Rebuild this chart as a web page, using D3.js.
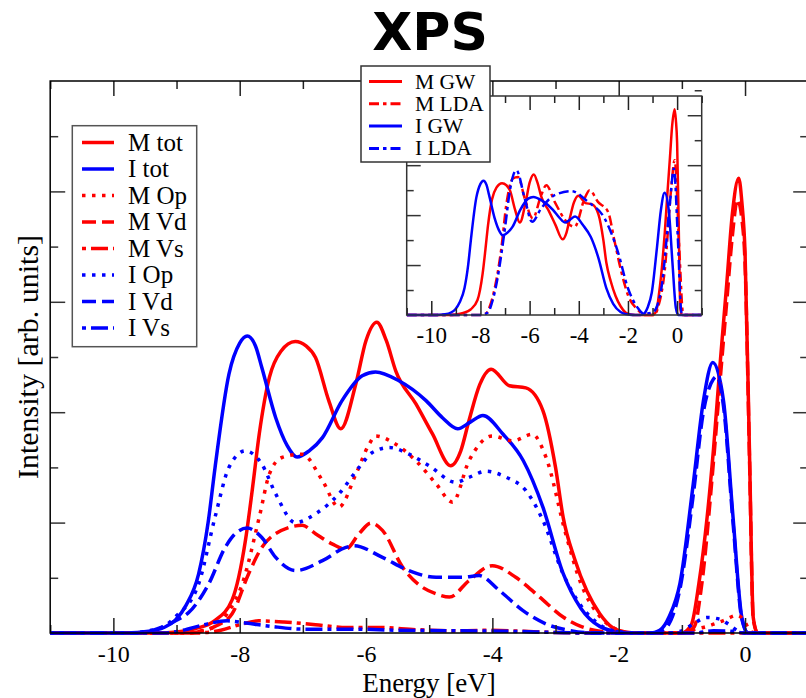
<!DOCTYPE html>
<html><head><meta charset="utf-8">
<script src="https://cdn.jsdelivr.net/npm/d3@7"></script>
<style>body{margin:0;background:#fff}svg{display:block}</style>
</head><body>
<svg id="c" width="806" height="698"></svg>
<script>
// ---------------- data (Energy [eV], Intensity [arb. units]) ----------------
const mTot = [[-11,0],[-9.3,0],[-9.0,0.02],[-8.7,0.08],[-8.4,0.22],[-8.12,0.6],[-7.91,1.67],[-7.8,2.6],[-7.69,3.61],[-7.53,4.63],[-7.35,5.1],[-7.12,5.28],[-6.95,5.2],[-6.8,4.99],[-6.59,4.21],[-6.4,3.7],[-6.16,4.52],[-6.0,5.3],[-5.83,5.63],[-5.68,5.3],[-5.53,4.75],[-5.21,4.15],[-4.95,3.61],[-4.66,3.03],[-4.5,3.3],[-4.37,3.85],[-4.2,4.5],[-4.02,4.78],[-3.73,4.48],[-3.47,4.44],[-3.2,4.03],[-3.0,3.0],[-2.88,2.1],[-2.7,1.35],[-2.5,0.75],[-2.3,0.35],[-2.1,0.1],[-1.9,0.02],[-1.7,0],[-1.0,0],[-0.85,0.15],[-0.73,0.9],[-0.6,2.1],[-0.5,3.32],[-0.4,4.8],[-0.29,6.32],[-0.2,7.6],[-0.1,8.24],[-0.05,7.8],[0,6.9],[0.07,3.3],[0.13,0.28],[0.2,0],[1,0]];
const iTot = [[-11,0],[-9.8,0],[-9.44,0.03],[-9.2,0.1],[-9.02,0.23],[-8.85,0.5],[-8.65,1.07],[-8.5,2.0],[-8.39,3.0],[-8.17,4.69],[-8.0,5.25],[-7.88,5.38],[-7.75,5.2],[-7.65,4.81],[-7.43,3.9],[-7.25,3.4],[-7.09,3.19],[-6.9,3.3],[-6.69,3.54],[-6.38,4.21],[-6.06,4.66],[-5.85,4.73],[-5.48,4.57],[-5.05,4.21],[-4.79,3.9],[-4.55,3.7],[-4.35,3.82],[-4.15,3.94],[-3.83,3.6],[-3.51,3.12],[-3.2,2.28],[-2.88,1.08],[-2.6,0.45],[-2.3,0.12],[-2.0,0.02],[-1.7,0],[-1.5,0],[-1.35,0.05],[-1.2,0.3],[-1.03,0.9],[-0.82,2.7],[-0.66,4.2],[-0.51,4.9],[-0.34,4.2],[-0.19,2.1],[-0.05,0.28],[0.05,0],[1,0]];
const mOp = [[-11,0],[-8.8,0],[-8.6,0.04],[-8.39,0.12],[-8.2,0.35],[-7.96,0.89],[-7.69,2.1],[-7.53,2.88],[-7.33,3.18],[-7.01,3.24],[-6.69,2.76],[-6.43,2.28],[-6.16,2.88],[-5.95,3.42],[-5.85,3.57],[-5.53,3.42],[-5.21,3.12],[-4.89,2.7],[-4.63,2.37],[-4.37,3.12],[-4.0,3.57],[-3.68,3.48],[-3.37,3.6],[-3.15,3.18],[-2.84,1.8],[-2.6,0.9],[-2.3,0.3],[-2.0,0.05],[-1.8,0],[-1.0,0],[-0.85,0.05],[-0.6,0.12],[-0.35,0.22],[-0.12,0.32],[-0.03,0.25],[0.1,0.02],[0.2,0],[1,0]];
const mVd = [[-11,0],[-8.8,0],[-8.55,0.05],[-8.39,0.12],[-8.12,0.35],[-7.86,1.07],[-7.65,1.55],[-7.43,1.8],[-7.01,1.95],[-6.8,1.8],[-6.53,1.61],[-6.32,1.52],[-6.11,1.8],[-5.92,1.99],[-5.74,1.86],[-5.42,1.19],[-5.11,0.83],[-4.89,0.71],[-4.68,0.65],[-4.37,0.95],[-4.0,1.22],[-3.63,1.01],[-3.25,0.65],[-2.88,0.29],[-2.6,0.12],[-2.3,0.03],[-2.0,0],[-0.95,0],[-0.8,0.12],[-0.7,0.75],[-0.5,3.1],[-0.4,4.5],[-0.29,6.0],[-0.2,7.2],[-0.12,7.85],[-0.05,7.5],[0,6.7],[0.07,3.2],[0.13,0.25],[0.2,0],[1,0]];
const mVs = [[-11,0],[-8.7,0],[-8.3,0.05],[-8.0,0.15],[-7.7,0.22],[-7.3,0.2],[-6.8,0.15],[-6.3,0.1],[-5.8,0.1],[-5.2,0.06],[-4.5,0.04],[-4.0,0.05],[-3.5,0.03],[-3.0,0.01],[-2.5,0],[1,0]];
const iOp = [[-11,0],[-9.8,0],[-9.44,0.04],[-9.2,0.12],[-9.02,0.29],[-8.65,0.89],[-8.39,2.1],[-8.17,3.0],[-7.91,3.3],[-7.65,3.06],[-7.43,2.52],[-7.12,2.0],[-6.8,2.16],[-6.43,2.52],[-6.11,3.0],[-5.9,3.27],[-5.63,3.36],[-5.32,3.24],[-5.0,3.03],[-4.58,2.73],[-4.37,2.82],[-4.1,2.93],[-3.78,2.82],[-3.47,2.58],[-3.2,2.04],[-2.88,1.07],[-2.6,0.5],[-2.3,0.15],[-2.0,0.02],[-1.7,0],[-1.2,0],[-1.0,0.04],[-0.8,0.18],[-0.6,0.28],[-0.4,0.25],[-0.25,0.15],[-0.1,0.03],[0,0],[1,0]];
const iVd = [[-11,0],[-9.6,0],[-9.3,0.08],[-9.0,0.23],[-8.8,0.38],[-8.49,0.89],[-8.23,1.55],[-8.05,1.82],[-7.88,1.9],[-7.65,1.73],[-7.43,1.37],[-7.12,1.13],[-6.69,1.31],[-6.32,1.55],[-6.19,1.58],[-5.74,1.37],[-5.32,1.13],[-4.89,1.01],[-4.47,1.01],[-4.21,1.04],[-3.89,0.77],[-3.52,0.41],[-3.1,0.14],[-2.8,0.05],[-2.4,0],[-1.5,0],[-1.3,0.05],[-1.03,0.8],[-0.82,2.5],[-0.66,4.0],[-0.5,4.6],[-0.45,4.65],[-0.34,4.1],[-0.19,2.0],[-0.05,0.25],[0.05,0],[1,0]];
const iVs = [[-11,0],[-9.2,0],[-8.9,0.05],[-8.6,0.14],[-8.2,0.22],[-7.9,0.18],[-7.5,0.12],[-7.0,0.07],[-6.2,0.07],[-5.5,0.05],[-4.5,0.04],[-3.7,0.03],[-3.0,0.01],[-2.5,0],[-0.8,0],[-0.5,0.04],[-0.2,0.03],[0,0],[1,0]];
// inset: GW curves are the totals above, LDA curves below
const mLda = [[-11,0],[-8.0,0],[-7.76,0.07],[-7.6,0.4],[-7.42,1.07],[-7.15,2.67],[-6.95,4.4],[-6.68,5.47],[-6.47,5.53],[-6.2,4.67],[-5.87,3.87],[-5.53,4.8],[-5.32,5.2],[-4.98,4.53],[-4.44,3.67],[-4.17,3.53],[-3.76,4.67],[-3.56,5.0],[-3.22,4.53],[-2.81,4.13],[-2.54,2.93],[-2.27,1.73],[-2.0,0.8],[-1.59,0.2],[-1.3,0],[-0.9,0],[-0.78,0.3],[-0.51,1.73],[-0.24,5.07],[-0.1,6.2],[0.1,2.4],[0.23,0.13],[0.3,0],[1,0]];
const iLda = [[-11,0],[-8.0,0],[-7.7,0.1],[-7.5,0.6],[-7.3,1.5],[-7.0,3.5],[-6.8,5.0],[-6.54,5.8],[-6.2,4.67],[-5.9,3.73],[-5.53,4.27],[-4.98,4.8],[-4.3,4.96],[-3.63,4.53],[-2.95,3.87],[-2.41,2.53],[-2.0,1.07],[-1.59,0.27],[-1.35,0.05],[-1.0,0.1],[-0.8,0.4],[-0.64,1.07],[-0.3,4.4],[-0.13,5.87],[0.03,3.07],[0.17,0.13],[0.25,0],[1,0]];

const xTickLabels = ["-10","-8","-6","-4","-2","0"];
const xMajor = [-10,-8,-6,-4,-2,0];
const xMinor = [-11,-9,-7,-5,-3,-1,1];
const yMajor = [2,4,6,8];
const yMinor = [1,3,5,7,9];
const mainLegend = ["M tot","I tot","M Op","M Vd","M Vs","I Op","I Vd","I Vs"];
const insetLegend = ["M GW","M LDA","I GW","I LDA"];

// ---------------- styles ----------------
const RED = "#ff0000", BLUE = "#0000ff";
const DOT = "3.5,6.5", DASH = "14,6", DASHDOT = "4,5,17,5", LDADASH = "10,4,3.5,4";
const mainSeries = [
  {data:mTot, color:RED, dash:null},
  {data:iTot, color:BLUE, dash:null},
  {data:mOp, color:RED, dash:DOT},
  {data:mVd, color:RED, dash:DASH},
  {data:mVs, color:RED, dash:DASHDOT},
  {data:iOp, color:BLUE, dash:DOT},
  {data:iVd, color:BLUE, dash:DASH},
  {data:iVs, color:BLUE, dash:DASHDOT}
];
const insetSeries = [
  {data:mTot, color:RED, dash:null},
  {data:mLda, color:RED, dash:LDADASH},
  {data:iTot, color:BLUE, dash:null},
  {data:iLda, color:BLUE, dash:LDADASH}
];

const svg = d3.select("#c");
const SERIF = "'Liberation Serif','Times New Roman',serif";

// ---------------- main plot ----------------
const M = {l:50.2, r:808.2, t:81, b:633};
const x = d3.scaleLinear().domain([-11,1]).range([M.l, M.r]);
const y = d3.scaleLinear().domain([0,10]).range([M.b, M.t]);

svg.append("text").attr("x",430).attr("y",50).attr("text-anchor","middle")
  .style("font-family","'DejaVu Sans',sans-serif").style("font-weight","bold").style("font-size","52px")
  .text("XPS");

const defs = svg.append("defs");
defs.append("clipPath").attr("id","clipMain").append("rect")
  .attr("x",M.l).attr("y",M.t-2).attr("width",M.r-M.l).attr("height",M.b-M.t+4);

function styleAxis(g, color){
  g.select(".domain").remove();
  g.selectAll("line").attr("stroke",color).attr("stroke-width",1.5);
}
function ticks(svgSel, xs, ys, box, majLen, minLen, labels, labelFont, labelDy){
  const gb = svgSel.append("g").attr("transform",`translate(0,${box.b})`)
    .call(d3.axisBottom(xs).tickValues(xMajor).tickSizeInner(-majLen).tickSizeOuter(0).tickFormat((d,i)=>labels[i]));
  styleAxis(gb,"#222");
  gb.selectAll("text").attr("y",labelDy).attr("dy",0).attr("fill","#000")
    .style("font-family",SERIF).style("font-size",labelFont);
  const gbm = svgSel.append("g").attr("transform",`translate(0,${box.b})`)
    .call(d3.axisBottom(xs).tickValues(xMinor).tickSizeInner(-minLen).tickSizeOuter(0).tickFormat(""));
  styleAxis(gbm,"#222");
  [[xMajor,majLen],[xMinor,minLen]].forEach(([v,len])=>{
    const g = svgSel.append("g").attr("transform",`translate(0,${box.t})`)
      .call(d3.axisTop(xs).tickValues(v).tickSizeInner(-len).tickSizeOuter(0).tickFormat(""));
    styleAxis(g,"#222");
  });
  [[yMajor,majLen],[yMinor,minLen]].forEach(([v,len])=>{
    const gl = svgSel.append("g").attr("transform",`translate(${box.l},0)`)
      .call(d3.axisLeft(ys).tickValues(v).tickSizeInner(-len).tickSizeOuter(0).tickFormat(""));
    styleAxis(gl,"#333");
    const gr = svgSel.append("g").attr("transform",`translate(${box.r},0)`)
      .call(d3.axisRight(ys).tickValues(v).tickSizeInner(-len).tickSizeOuter(0).tickFormat(""));
    styleAxis(gr,"#333");
  });
}

const lineMain = d3.line().x(d=>x(d[0])).y(d=>y(d[1])).curve(d3.curveMonotoneX);
const gMain = svg.append("g").attr("clip-path","url(#clipMain)");
mainSeries.forEach(s=>{
  gMain.append("path").attr("d",lineMain(s.data)).attr("fill","none")
    .attr("stroke",s.color).attr("stroke-width",3.5)
    .attr("stroke-dasharray",s.dash).attr("stroke-linejoin","round");
});

ticks(svg, x, y, M, 15, 8, xTickLabels, "24px", 29);
svg.append("rect").attr("x",M.l).attr("y",M.t).attr("width",M.r-M.l).attr("height",M.b-M.t)
  .attr("fill","none").attr("stroke","#000").attr("stroke-width",1.5);

// axis titles
svg.append("text").attr("x",429).attr("y",692).attr("text-anchor","middle")
  .style("font-family",SERIF).style("font-size","27px").text("Energy [eV]");
svg.append("text").attr("transform","translate(38,357) rotate(-90)").attr("text-anchor","middle")
  .style("font-family",SERIF).style("font-size","30px").text("Intensity [arb. units]");

// main legend
const lg = svg.append("g");
lg.append("rect").attr("x",72.3).attr("y",125.7).attr("width",124.4).attr("height",221)
  .attr("fill","#fff").attr("stroke","#555").attr("stroke-width",1.5);
mainLegend.forEach((name,i)=>{
  const ry = 142.5 + i*26.5, s = mainSeries[i];
  lg.append("line").attr("x1",82).attr("x2",114).attr("y1",ry).attr("y2",ry)
    .attr("stroke",s.color).attr("stroke-width",3.5).attr("stroke-dasharray",s.dash);
  lg.append("text").attr("x",128).attr("y",ry+8)
    .style("font-family",SERIF).style("font-size","25px").text(name);
});

// ---------------- inset ----------------
const I = {l:406.7, r:701.7, t:96, b:315};
const xi = d3.scaleLinear().domain([-11,1]).range([I.l, I.r]);
const yi = d3.scaleLinear().domain([0,8.77]).range([I.b, I.t]);
svg.append("rect").attr("x",I.l).attr("y",I.t).attr("width",I.r-I.l).attr("height",I.b-I.t).attr("fill","#fff");
defs.append("clipPath").attr("id","clipInset").append("rect")
  .attr("x",I.l).attr("y",I.t).attr("width",I.r-I.l).attr("height",I.b-I.t+2);
const lineInset = d3.line().x(d=>xi(d[0])).y(d=>yi(d[1])).curve(d3.curveMonotoneX);
const gIn = svg.append("g").attr("clip-path","url(#clipInset)");
insetSeries.forEach(s=>{
  gIn.append("path").attr("d",lineInset(s.data)).attr("fill","none")
    .attr("stroke",s.color).attr("stroke-width",2.5)
    .attr("stroke-dasharray",s.dash).attr("stroke-linejoin","round");
});
ticks(svg, xi, yi, I, 14, 7, xTickLabels, "23px", 28);
svg.append("rect").attr("x",I.l).attr("y",I.t).attr("width",I.r-I.l).attr("height",I.b-I.t)
  .attr("fill","none").attr("stroke","#333").attr("stroke-width",1.5);

// inset legend
const il = svg.append("g");
il.append("rect").attr("x",361).attr("y",66).attr("width",129).attr("height",96)
  .attr("fill","#fff").attr("stroke","#333").attr("stroke-width",1.5);
insetLegend.forEach((name,i)=>{
  const ry = 81.5 + i*22.3, s = insetSeries[i];
  il.append("line").attr("x1",369).attr("x2",402).attr("y1",ry).attr("y2",ry)
    .attr("stroke",s.color).attr("stroke-width",3).attr("stroke-dasharray",s.dash);
  il.append("text").attr("x",415).attr("y",ry+7)
    .style("font-family",SERIF).style("font-size","21.5px").text(name);
});
</script>
</body></html>
